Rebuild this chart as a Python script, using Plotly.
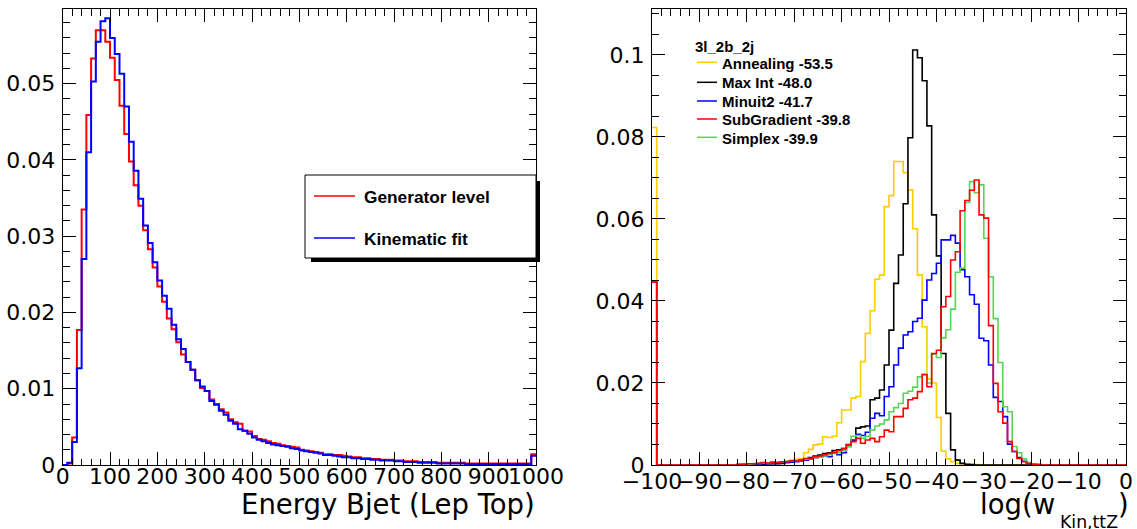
import numpy as np
import plotly.graph_objects as go

W, H = 1137, 529

# ---------------- Left panel data (bins of 10 from 0 to 1000) ----------------
E_BIN_LO, E_BIN_HI, E_NBINS = 0, 1000, 100
gen_level = [
    0.0000, 0.0002, 0.0036, 0.0177, 0.0335, 0.0459, 0.0533, 0.0570, 0.0570, 0.0555,
    0.0534, 0.0505, 0.0471, 0.0434, 0.0398, 0.0367, 0.0340, 0.0308, 0.0283, 0.0259,
    0.0234, 0.0214, 0.0192, 0.0178, 0.0161, 0.0145, 0.0135, 0.0125, 0.0111, 0.0101,
    0.0097, 0.0086, 0.0080, 0.0073, 0.0069, 0.0060, 0.0056, 0.0054, 0.0045, 0.0044,
    0.0038, 0.0034, 0.0033, 0.0031, 0.0029, 0.0028, 0.0026, 0.0025, 0.0024, 0.0023,
    0.0020, 0.0019, 0.0018, 0.0017, 0.0016, 0.0014, 0.0014, 0.0013, 0.0013, 0.0012,
    0.0011, 0.0010, 0.0010, 0.0009, 0.0009, 0.0008, 0.0008, 0.0007, 0.0007, 0.0007,
    0.0006, 0.0006, 0.0005, 0.0005, 0.0005, 0.0004, 0.0004, 0.0004, 0.0004, 0.0003,
    0.0003, 0.0003, 0.0003, 0.0003, 0.0003, 0.0002, 0.0002, 0.0002, 0.0002, 0.0002,
    0.0002, 0.0002, 0.0002, 0.0002, 0.0002, 0.0002, 0.0002, 0.0002, 0.0002, 0.0014,
]
kin_fit = [
    0.0000, 0.0003, 0.0030, 0.0127, 0.0270, 0.0410, 0.0503, 0.0555, 0.0582, 0.0586,
    0.0560, 0.0539, 0.0513, 0.0470, 0.0424, 0.0386, 0.0349, 0.0314, 0.0291, 0.0266,
    0.0242, 0.0222, 0.0205, 0.0184, 0.0165, 0.0152, 0.0135, 0.0125, 0.0111, 0.0103,
    0.0097, 0.0084, 0.0079, 0.0071, 0.0066, 0.0058, 0.0054, 0.0047, 0.0045, 0.0041,
    0.0036, 0.0033, 0.0031, 0.0029, 0.0027, 0.0026, 0.0025, 0.0024, 0.0022, 0.0021,
    0.0019, 0.0018, 0.0017, 0.0016, 0.0015, 0.0013, 0.0013, 0.0012, 0.0011, 0.0010,
    0.0010, 0.0009, 0.0009, 0.0008, 0.0008, 0.0007, 0.0007, 0.0006, 0.0006, 0.0006,
    0.0005, 0.0005, 0.0004, 0.0004, 0.0004, 0.0003, 0.0003, 0.0003, 0.0003, 0.0002,
    0.0002, 0.0002, 0.0002, 0.0002, 0.0002, 0.0001, 0.0001, 0.0001, 0.0001, 0.0001,
    0.0001, 0.0001, 0.0001, 0.0001, 0.0001, 0.0001, 0.0001, 0.0001, 0.0001, 0.0012,
]

# ---------------- Right panel data (bins of 1 from -100 to 0) ----------------
W_BIN_LO, W_BIN_HI, W_NBINS = -100, 0, 100
annealing = [
    0.0823, 0, 0, 0, 0, 0, 0, 0, 0, 0,
    0, 0, 0, 0, 0, 0, 0, 0, 0.0001, 0.0002,
    0.0002, 0.0003, 0.0003, 0.0004, 0.0004, 0.0005, 0.0006, 0.0008, 0.0010, 0.0012,
    0.0014, 0.0016, 0.0030, 0.0038, 0.0049, 0.0051, 0.0069, 0.0067, 0.0070, 0.0103,
    0.0134, 0.0134, 0.0163, 0.0167, 0.0252, 0.0321, 0.0376, 0.0453, 0.0463, 0.0630,
    0.0657, 0.0740, 0.0740, 0.0713, 0.0671, 0.0576, 0.0463, 0.0337, 0.0210, 0.0200,
    0.0116, 0.0034, 0.0015, 0.0008, 0.0004, 0.0003, 0.0002, 0.0001, 0.0001, 0,
    0, 0, 0, 0, 0, 0, 0, 0, 0, 0,
    0, 0, 0, 0, 0, 0, 0, 0, 0, 0,
    0, 0, 0, 0, 0, 0, 0, 0, 0, 0,
]
max_int = [
    0.0446, 0, 0, 0, 0, 0, 0, 0, 0, 0,
    0, 0, 0, 0, 0, 0, 0, 0, 0.0001, 0.0001,
    0.0002, 0.0002, 0.0002, 0.0002, 0.0003, 0.0003, 0.0003, 0.0004, 0.0006, 0.0008,
    0.0010, 0.0012, 0.0015, 0.0018, 0.0022, 0.0024, 0.0028, 0.0030, 0.0035, 0.0037,
    0.0040, 0.0050, 0.0060, 0.0090, 0.0093, 0.0095, 0.0159, 0.0163, 0.0183, 0.0244,
    0.0329, 0.0443, 0.0512, 0.0637, 0.0798, 0.1012, 0.0993, 0.0937, 0.0827, 0.0610,
    0.0510, 0.0272, 0.0126, 0.0037, 0.0012, 0.0004, 0.0002, 0.0001, 0, 0,
    0, 0, 0, 0, 0, 0, 0, 0, 0, 0,
    0, 0, 0, 0, 0, 0, 0, 0, 0, 0,
    0, 0, 0, 0, 0, 0, 0, 0, 0, 0,
]
minuit2 = [
    0.0446, 0, 0, 0, 0, 0, 0, 0, 0, 0,
    0, 0, 0, 0, 0, 0, 0, 0, 0.0001, 0.0001,
    0.0002, 0.0002, 0.0002, 0.0003, 0.0003, 0.0004, 0.0004, 0.0005, 0.0006, 0.0007,
    0.0008, 0.0010, 0.0012, 0.0015, 0.0018, 0.0020, 0.0022, 0.0020, 0.0030, 0.0025,
    0.0030, 0.0045, 0.0060, 0.0075, 0.0072, 0.0080, 0.0114, 0.0126, 0.0120, 0.0167,
    0.0191, 0.0244, 0.0285, 0.0317, 0.0325, 0.0350, 0.0358, 0.0402, 0.0451, 0.0467,
    0.0492, 0.0549, 0.0549, 0.0560, 0.0541, 0.0476, 0.0459, 0.0415, 0.0392, 0.0309,
    0.0303, 0.0244, 0.0165, 0.0155, 0.0118, 0.0051, 0.0033, 0.0018, 0.0009, 0.0004,
    0.0002, 0.0001, 0, 0, 0, 0, 0, 0, 0, 0,
    0, 0, 0, 0, 0, 0, 0, 0, 0, 0,
]
subgradient = [
    0.0446, 0, 0, 0, 0, 0, 0, 0, 0, 0,
    0, 0, 0, 0, 0, 0, 0, 0, 0.0001, 0.0002,
    0.0003, 0.0003, 0.0004, 0.0006, 0.0005, 0.0007, 0.0006, 0.0008, 0.0008, 0.0010,
    0.0010, 0.0012, 0.0016, 0.0016, 0.0020, 0.0022, 0.0025, 0.0028, 0.0030, 0.0035,
    0.0040, 0.0049, 0.0057, 0.0065, 0.0053, 0.0061, 0.0065, 0.0057, 0.0069, 0.0085,
    0.0081, 0.0118, 0.0118, 0.0138, 0.0159, 0.0163, 0.0179, 0.0220, 0.0191, 0.0272,
    0.0280, 0.0386, 0.0411, 0.0500, 0.0520, 0.0620, 0.0645, 0.0670, 0.0695, 0.0610,
    0.0602, 0.0340, 0.0199, 0.0130, 0.0102, 0.0057, 0.0033, 0.0016, 0.0008, 0.0004,
    0.0002, 0.0001, 0, 0, 0, 0, 0, 0, 0, 0,
    0, 0, 0, 0, 0, 0, 0, 0, 0, 0,
]
simplex = [
    0.0446, 0, 0, 0, 0, 0, 0, 0, 0, 0,
    0, 0, 0, 0, 0, 0, 0, 0, 0.0001, 0.0002,
    0.0002, 0.0003, 0.0004, 0.0005, 0.0005, 0.0006, 0.0007, 0.0008, 0.0009, 0.0010,
    0.0010, 0.0012, 0.0014, 0.0016, 0.0018, 0.0020, 0.0022, 0.0025, 0.0028, 0.0030,
    0.0035, 0.0045, 0.0070, 0.0072, 0.0065, 0.0070, 0.0085, 0.0095, 0.0100, 0.0110,
    0.0130, 0.0140, 0.0150, 0.0175, 0.0180, 0.0190, 0.0215, 0.0222, 0.0200, 0.0270,
    0.0262, 0.0310, 0.0330, 0.0380, 0.0470, 0.0480, 0.0640, 0.0691, 0.0664, 0.0683,
    0.0553, 0.0459, 0.0357, 0.0250, 0.0142, 0.0130, 0.0045, 0.0030, 0.0015, 0.0006,
    0.0003, 0.0001, 0, 0, 0, 0, 0, 0, 0, 0,
    0, 0, 0, 0, 0, 0, 0, 0, 0, 0,
]

left_series = [("Generator level", gen_level, "#ff0000"), ("Kinematic fit", kin_fit, "#0000ff")]
right_series = [
    ("Annealing -53.5", annealing, "#ffcc00"),
    ("Max Int -48.0", max_int, "#000000"),
    ("Minuit2 -41.7", minuit2, "#0000ff"),
    ("SubGradient -39.8", subgradient, "#ff0000"),
    ("Simplex -39.9", simplex, "#55d655"),
]
right_draw_order = [0, 1, 2, 4, 3]
right_title = "3l_2b_2j"

# ---------------- figure ----------------
def pxx(x):
    return x / W

def pxy(y):
    return 1 - y / H

fig = go.Figure()

def step_trace(lo, hi, n, vals, color, width, xa, ya):
    edges = np.linspace(lo, hi, n + 1)
    yv = list(vals) + [vals[-1]]
    return go.Scatter(x=edges, y=yv, mode="lines", line=dict(color=color, width=width, shape="hv"),
                      xaxis=xa, yaxis=ya, showlegend=False, hoverinfo="skip")

for name, vals, col in left_series:
    fig.add_trace(step_trace(E_BIN_LO, E_BIN_HI, E_NBINS, vals, col, 2, "x", "y"))
for i in right_draw_order:
    name, vals, col = right_series[i]
    fig.add_trace(step_trace(W_BIN_LO, W_BIN_HI, W_NBINS, vals, col, 1.6, "x2", "y2"))

AX_FONT = dict(family="DejaVu Sans", size=22, color="black")
ydom = [(H - 465) / H, (H - 9) / H]

def xaxis_cfg(domain, rng, dtick, mdtick, anchor, standoff):
    return dict(domain=domain, range=rng, anchor=anchor, tickmode="linear", tick0=rng[0], dtick=dtick,
                ticks="inside", ticklen=13, tickwidth=1, tickcolor="black",
                minor=dict(dtick=mdtick, tick0=rng[0], ticks="inside", ticklen=6.5, tickwidth=1, tickcolor="black"),
                showline=True, linecolor="black", linewidth=1, mirror="allticks",
                showgrid=False, zeroline=False, tickfont=AX_FONT, tickangle=0,
                ticklabelstandoff=standoff, automargin=False)

def yaxis_cfg(rng, dtick, mdtick, anchor, standoff):
    return dict(domain=ydom, range=rng, anchor=anchor, tickmode="linear", tick0=0, dtick=dtick,
                ticks="inside", ticklen=13, tickwidth=1, tickcolor="black",
                minor=dict(dtick=mdtick, tick0=0, ticks="inside", ticklen=7, tickwidth=1, tickcolor="black"),
                showline=True, linecolor="black", linewidth=1, mirror="allticks",
                showgrid=False, zeroline=False, tickfont=AX_FONT,
                ticklabelstandoff=standoff, automargin=False)

fig.update_layout(
    width=W, height=H, margin=dict(l=0, r=0, t=0, b=0, pad=0, autoexpand=False),
    paper_bgcolor="white", plot_bgcolor="white", showlegend=False,
    xaxis=xaxis_cfg([62.7 / W, 536 / W], [0, 1000], 100, 20, "y", -8),
    yaxis=yaxis_cfg([0, 0.0598], 0.01, 0.002, "x", 2),
    xaxis2=xaxis_cfg([652 / W, 1126 / W], [-100, 0], 10, 2, "y2", -3),
    yaxis2=yaxis_cfg([0, 0.1112], 0.02, 0.005, "x2", 2),
)

shapes = []
annotations = []

# axis titles
annotations.append(dict(text="Energy Bjet (Lep Top)", x=pxx(537), y=pxy(503.5), xref="paper", yref="paper",
                        xanchor="right", yanchor="middle", showarrow=False,
                        font=dict(family="DejaVu Sans", size=27.5, color="black")))
annotations.append(dict(text="log(w", x=pxx(1057), y=pxy(503.5), xref="paper", yref="paper",
                        xanchor="right", yanchor="middle", showarrow=False,
                        font=dict(family="DejaVu Sans", size=27.5, color="black")))
annotations.append(dict(text="Kin,ttZ", x=pxx(1058), y=pxy(522), xref="paper", yref="paper",
                        xanchor="left", yanchor="middle", showarrow=False,
                        font=dict(family="DejaVu Sans", size=17.3, color="black")))
annotations.append(dict(text=")", x=pxx(1116), y=pxy(503.5), xref="paper", yref="paper",
                        xanchor="left", yanchor="middle", showarrow=False,
                        font=dict(family="DejaVu Sans", size=27.5, color="black")))

# left legend box with shadow
shapes.append(dict(type="rect", xref="paper", yref="paper", x0=pxx(311), x1=pxx(540), y0=pxy(262), y1=pxy(181),
                   fillcolor="black", line=dict(width=0)))
shapes.append(dict(type="rect", xref="paper", yref="paper", x0=pxx(305), x1=pxx(536), y0=pxy(258), y1=pxy(175),
                   fillcolor="white", line=dict(color="black", width=1)))
for (name, vals, col), ly, ty in zip(left_series, [196, 238], [197.3, 239]):
    shapes.append(dict(type="line", xref="paper", yref="paper", x0=pxx(314), x1=pxx(355), y0=pxy(ly), y1=pxy(ly),
                       line=dict(color=col, width=1.5)))
    annotations.append(dict(text="<b>%s</b>" % name, x=pxx(362), y=pxy(ty), xref="paper", yref="paper",
                            xanchor="left", yanchor="middle", showarrow=False,
                            font=dict(family="Liberation Sans", size=17.3, color="black")))

# right legend (no box)
annotations.append(dict(text="<b>%s</b>" % right_title, x=pxx(692.5), y=pxy(47), xref="paper", yref="paper",
                        xanchor="left", yanchor="middle", showarrow=False,
                        font=dict(family="Liberation Sans", size=15, color="black")))
for (name, vals, col), ly, ty in zip(right_series, [62.3, 82.3, 101, 119, 137.3], [63, 82, 101, 119, 138]):
    shapes.append(dict(type="line", xref="paper", yref="paper", x0=pxx(697), x1=pxx(717), y0=pxy(ly), y1=pxy(ly),
                       line=dict(color=col, width=1.5)))
    annotations.append(dict(text="<b>%s</b>" % name, x=pxx(720), y=pxy(ty), xref="paper", yref="paper",
                            xanchor="left", yanchor="middle", showarrow=False,
                            font=dict(family="Liberation Sans", size=15, color="black")))

fig.update_layout(shapes=shapes, annotations=annotations)
fig.write_html("out.html")
